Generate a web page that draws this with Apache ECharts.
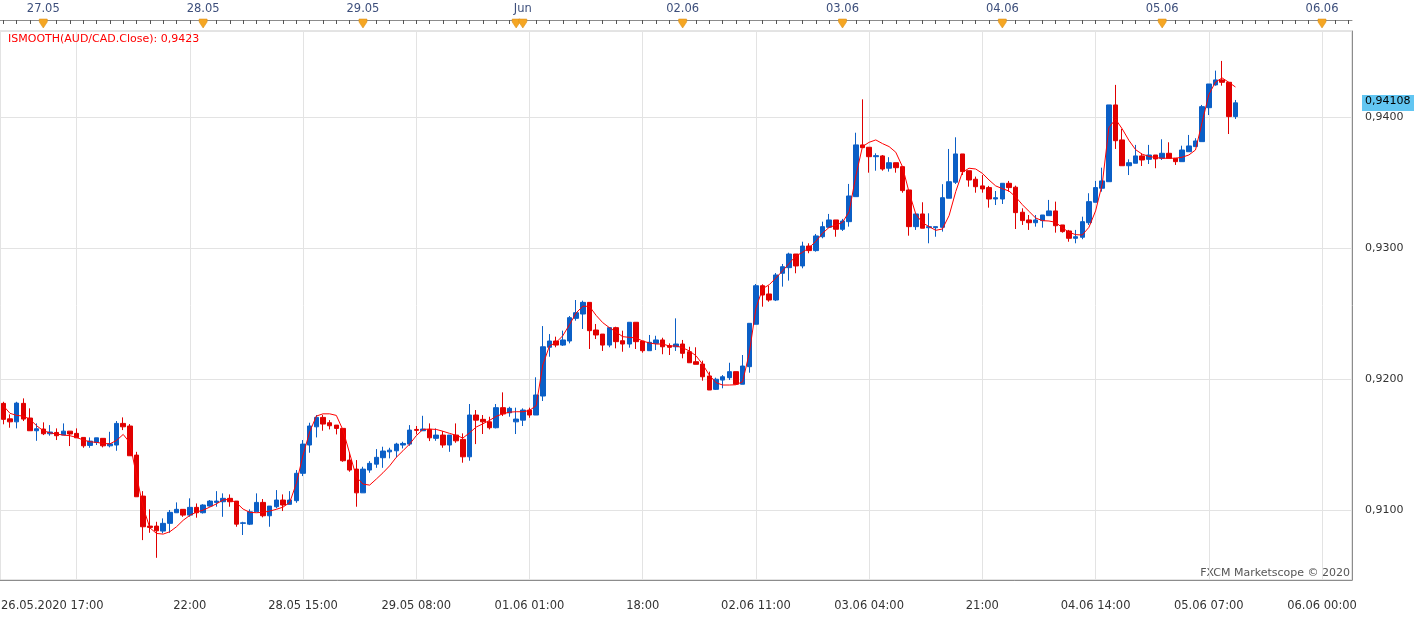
<!DOCTYPE html>
<html>
<head>
<meta charset="utf-8">
<title>AUD/CAD H1</title>
<script src="https://cdn.jsdelivr.net/npm/echarts@6/dist/echarts.min.js"></script>
<style>
  html, body { margin: 0; padding: 0; background: #fff; }
  #chart { width: 1423px; height: 619px; }
</style>
</head>
<body>
<div id="chart"></div>
<script>
// AUD/CAD hourly candles, 26.05.2020 18:00 .. 05.06.2020 11:00
var opens = [
  0.91814,0.91696,0.91673,0.91814,0.91702,0.91605,0.91618,0.91582,0.91592,0.91572,
  0.91602,0.91585,0.91554,0.91493,0.91516,0.91547,0.91490,0.91496,0.91661,0.91641,
  0.91419,0.91106,0.90877,0.90877,0.90839,0.90898,0.90979,0.91005,0.90961,0.91020,
  0.90979,0.91030,0.91058,0.91063,0.91089,0.91068,0.90898,0.90892,0.90986,0.91058,
  0.90956,0.91025,0.91076,0.91043,0.91071,0.91280,0.91496,0.91635,0.91707,0.91666,
  0.91648,0.91623,0.91381,0.91312,0.91131,0.91305,0.91350,0.91399,0.91444,0.91452,
  0.91496,0.91503,0.91615,0.91605,0.91615,0.91547,0.91572,0.91496,0.91572,0.91539,
  0.91406,0.91725,0.91692,0.91673,0.91628,0.91781,0.91742,0.91673,0.91686,0.91763,
  0.91725,0.91870,0.92242,0.92290,0.92259,0.92290,0.92463,0.92496,0.92585,0.92374,
  0.92343,0.92259,0.92392,0.92292,0.92267,0.92433,0.92290,0.92216,0.92272,0.92298,
  0.92254,0.92246,0.92267,0.92208,0.92132,0.92114,0.92023,0.91921,0.91992,0.92010,
  0.92056,0.91960,0.92094,0.92418,0.92712,0.92649,0.92603,0.92807,0.92850,0.92954,
  0.92863,0.93015,0.92980,0.93086,0.93158,0.93214,0.93143,0.93201,0.93392,0.93787,
  0.93769,0.93697,0.93703,0.93609,0.93651,0.93621,0.93443,0.93163,0.93260,0.93155,
  0.93155,0.93158,0.93380,0.93502,0.93718,0.93590,0.93525,0.93474,0.93461,0.93374,
  0.93374,0.93494,0.93464,0.93273,0.93214,0.93193,0.93209,0.93247,0.93283,0.93176,
  0.93130,0.93074,0.93082,0.93193,0.93349,0.93456,0.93506,0.94092,0.93825,0.93628,
  0.93647,0.93703,0.93677,0.93710,0.93685,0.93723,0.93685,0.93659,0.93735,0.93774,
  0.93812,0.94071,0.94245,0.94283,0.94265,0.94003
];
var closes = [
  0.91692,0.91673,0.91816,0.91694,0.91605,0.91620,0.91582,0.91595,0.91567,0.91602,
  0.91580,0.91551,0.91490,0.91526,0.91551,0.91490,0.91505,0.91661,0.91635,0.91414,
  0.91101,0.90872,0.90867,0.90841,0.90898,0.90982,0.91005,0.90961,0.91020,0.90979,
  0.91038,0.91068,0.91068,0.91089,0.91063,0.90892,0.90902,0.90986,0.91058,0.90956,
  0.91030,0.91076,0.91038,0.91076,0.91280,0.91503,0.91641,0.91707,0.91656,0.91643,
  0.91623,0.91376,0.91305,0.91131,0.91312,0.91356,0.91402,0.91450,0.91457,0.91503,
  0.91508,0.91610,0.91608,0.91618,0.91551,0.91572,0.91496,0.91572,0.91528,0.91406,
  0.91725,0.91686,0.91673,0.91628,0.91781,0.91733,0.91776,0.91694,0.91763,0.91725,
  0.91878,0.92246,0.92290,0.92259,0.92298,0.92468,0.92506,0.92585,0.92369,0.92336,
  0.92259,0.92392,0.92285,0.92267,0.92433,0.92285,0.92216,0.92280,0.92298,0.92246,
  0.92242,0.92267,0.92196,0.92124,0.92112,0.92017,0.91916,0.91998,0.92017,0.92056,
  0.91960,0.92099,0.92425,0.92712,0.92641,0.92603,0.92794,0.92857,0.92954,0.92863,
  0.93015,0.92980,0.93092,0.93163,0.93214,0.93143,0.93206,0.93397,0.93787,0.93766,
  0.93697,0.93705,0.93603,0.93651,0.93613,0.93438,0.93163,0.93260,0.93151,0.93163,
  0.93163,0.93384,0.93506,0.93718,0.93583,0.93519,0.93468,0.93451,0.93374,0.93384,
  0.93494,0.93461,0.93270,0.93209,0.93193,0.93214,0.93252,0.93283,0.93170,0.93125,
  0.93074,0.93086,0.93201,0.93354,0.93461,0.93512,0.94092,0.93819,0.93628,0.93651,
  0.93703,0.93672,0.93710,0.93680,0.93723,0.93685,0.93659,0.93748,0.93779,0.93817,
  0.94079,0.94252,0.94283,0.94265,0.94003,0.94108
];
var lows = [
  0.91654,0.91628,0.91623,0.91679,0.91605,0.91528,0.91572,0.91567,0.91534,0.91572,
  0.91488,0.91551,0.91475,0.91475,0.91496,0.91478,0.91478,0.91452,0.91610,0.91414,
  0.91101,0.90770,0.90826,0.90635,0.90822,0.90826,0.90979,0.90948,0.90948,0.90941,
  0.90973,0.91025,0.91025,0.90948,0.91025,0.90872,0.90809,0.90885,0.90986,0.90944,
  0.90872,0.91013,0.90992,0.91043,0.91055,0.91259,0.91437,0.91554,0.91605,0.91615,
  0.91577,0.91368,0.91292,0.91025,0.91131,0.91284,0.91322,0.91322,0.91394,0.91402,
  0.91470,0.91490,0.91577,0.91605,0.91526,0.91528,0.91475,0.91444,0.91513,0.91361,
  0.91376,0.91503,0.91580,0.91615,0.91623,0.91717,0.91712,0.91580,0.91641,0.91704,
  0.91725,0.91832,0.92170,0.92242,0.92252,0.92272,0.92445,0.92382,0.92229,0.92305,
  0.92214,0.92242,0.92234,0.92208,0.92239,0.92229,0.92201,0.92216,0.92221,0.92189,
  0.92183,0.92214,0.92158,0.92124,0.92112,0.91987,0.91916,0.91916,0.91929,0.91992,
  0.91960,0.91960,0.92048,0.92418,0.92552,0.92590,0.92595,0.92705,0.92751,0.92807,
  0.92845,0.92960,0.92972,0.93074,0.93158,0.93086,0.93130,0.93163,0.93392,0.93766,
  0.93575,0.93590,0.93590,0.93583,0.93575,0.93422,0.93094,0.93138,0.93151,0.93036,
  0.93086,0.93125,0.93380,0.93489,0.93557,0.93468,0.93422,0.93422,0.93308,0.93328,
  0.93336,0.93430,0.93145,0.93176,0.93138,0.93163,0.93155,0.93247,0.93117,0.93117,
  0.93048,0.93036,0.93067,0.93176,0.93349,0.93430,0.93506,0.93756,0.93628,0.93557,
  0.93647,0.93626,0.93641,0.93609,0.93672,0.93685,0.93634,0.93659,0.93735,0.93774,
  0.93812,0.94015,0.94239,0.94239,0.93870,0.93985
];
var highs = [
  0.91826,0.91730,0.91826,0.91852,0.91776,0.91661,0.91669,0.91648,0.91623,0.91661,
  0.91602,0.91623,0.91554,0.91554,0.91551,0.91547,0.91597,0.91679,0.91707,0.91656,
  0.91444,0.91144,0.91005,0.90910,0.90936,0.91000,0.91058,0.91005,0.91089,0.91050,
  0.91044,0.91076,0.91144,0.91127,0.91119,0.91068,0.90910,0.91005,0.91127,0.91084,
  0.91030,0.91152,0.91119,0.91144,0.91305,0.91534,0.91666,0.91725,0.91725,0.91686,
  0.91648,0.91623,0.91440,0.91381,0.91330,0.91373,0.91465,0.91483,0.91475,0.91513,
  0.91521,0.91648,0.91641,0.91719,0.91661,0.91623,0.91602,0.91572,0.91661,0.91585,
  0.91809,0.91763,0.91725,0.91712,0.91809,0.91898,0.91788,0.91781,0.91776,0.91781,
  0.92013,0.92404,0.92343,0.92323,0.92369,0.92481,0.92603,0.92598,0.92585,0.92420,
  0.92343,0.92392,0.92399,0.92369,0.92433,0.92433,0.92290,0.92336,0.92330,0.92315,
  0.92272,0.92463,0.92298,0.92246,0.92242,0.92140,0.92056,0.92010,0.92030,0.92124,
  0.92056,0.92183,0.92425,0.92725,0.92723,0.92712,0.92809,0.92878,0.92964,0.92954,
  0.93048,0.93036,0.93107,0.93201,0.93260,0.93214,0.93222,0.93489,0.93880,0.94135,
  0.93769,0.93723,0.93710,0.93693,0.93651,0.93621,0.93443,0.93260,0.93349,0.93265,
  0.93163,0.93487,0.93756,0.93845,0.93718,0.93590,0.93545,0.93557,0.93474,0.93435,
  0.93494,0.93512,0.93476,0.93303,0.93252,0.93252,0.93252,0.93367,0.93354,0.93176,
  0.93138,0.93138,0.93239,0.93418,0.93512,0.93613,0.94092,0.94245,0.93909,0.93677,
  0.93787,0.93723,0.93787,0.93710,0.93830,0.93807,0.93685,0.93781,0.93863,0.93838,
  0.94092,0.94252,0.94354,0.94428,0.94265,0.94130
];
// ISMOOTH(Close)
var smooth = [
  0.91796,0.91738,0.91722,0.91717,0.91692,0.91643,0.91605,0.91589,0.91580,0.91572,
  0.91567,0.91554,0.91534,0.91521,0.91516,0.91508,0.91505,0.91531,0.91577,0.91513,
  0.91261,0.91020,0.90864,0.90821,0.90816,0.90834,0.90872,0.90921,0.90959,0.90984,
  0.90999,0.91022,0.91047,0.91077,0.91081,0.91055,0.91007,0.90982,0.90979,0.90982,
  0.90992,0.91005,0.91022,0.91058,0.91203,0.91419,0.91597,0.91717,0.91734,0.91734,
  0.91722,0.91610,0.91432,0.91253,0.91198,0.91190,0.91236,0.91284,0.91337,0.91402,
  0.91452,0.91503,0.91567,0.91615,0.91618,0.91615,0.91601,0.91585,0.91570,0.91549,
  0.91589,0.91633,0.91658,0.91684,0.91715,0.91734,0.91747,0.91750,0.91750,0.91760,
  0.91796,0.92107,0.92252,0.92279,0.92330,0.92414,0.92504,0.92555,0.92555,0.92486,
  0.92430,0.92392,0.92359,0.92323,0.92318,0.92313,0.92290,0.92275,0.92267,0.92267,
  0.92252,0.92252,0.92239,0.92214,0.92178,0.92112,0.92030,0.91972,0.91954,0.91954,
  0.91956,0.91979,0.92196,0.92540,0.92689,0.92720,0.92771,0.92825,0.92883,0.92939,
  0.92967,0.93003,0.93051,0.93112,0.93158,0.93174,0.93196,0.93277,0.93550,0.93774,
  0.93807,0.93825,0.93797,0.93774,0.93731,0.93621,0.93425,0.93260,0.93193,0.93163,
  0.93135,0.93145,0.93247,0.93430,0.93578,0.93609,0.93603,0.93570,0.93519,0.93474,
  0.93453,0.93435,0.93390,0.93331,0.93280,0.93229,0.93209,0.93206,0.93196,0.93155,
  0.93120,0.93102,0.93099,0.93158,0.93283,0.93489,0.93919,0.93983,0.93909,0.93822,
  0.93751,0.93716,0.93700,0.93690,0.93685,0.93685,0.93685,0.93693,0.93710,0.93748,
  0.93960,0.94170,0.94267,0.94298,0.94265,0.94229
];

// bottom time labels (category index, text) and top day markers
var bottomLabels = [
  [28, '22:00'], [45, '28.05 15:00'], [62, '29.05 08:00'], [79, '01.06 01:00'],
  [96, '18:00'], [113, '02.06 11:00'], [130, '03.06 04:00'], [147, '21:00'],
  [164, '04.06 14:00'], [181, '05.06 07:00'], [198, '06.06 00:00']
];
var gridLines = [11, 28, 45, 62, 79, 96, 113, 130, 147, 164, 181, 198];
var dayLabels = [
  [6, '27.05'], [30, '28.05'], [54, '29.05'], [78, 'Jun'], [102, '02.06'],
  [126, '03.06'], [150, '04.06'], [174, '05.06'], [198, '06.06']
];
var dayMarkers = [6, 30, 54, 77, 78, 102, 126, 150, 174, 198];
var firstLabel = '26.05.2020 17:00';
var yMin = 0.904656, yMax = 0.946565;

var UP = '#0b5fc6', DOWN = '#e00000';
var FONT = 'DejaVu Sans';

function pad(n) { return (n < 10 ? '0' : '') + n; }
function fmt(v, d) { return v.toFixed(d).replace('.', ','); }

// hourly slots, market closed from Fri 21:00 to Sun 21:00
var categories = (function () {
  var list = [];
  var t = Date.UTC(2020, 4, 26, 18);
  var gapFrom = Date.UTC(2020, 4, 29, 21), gapTo = Date.UTC(2020, 4, 31, 21);
  while (list.length < 203) {
    if (t < gapFrom || t >= gapTo) {
      var d = new Date(t);
      list.push(pad(d.getUTCDate()) + '.' + pad(d.getUTCMonth() + 1) + ' ' + pad(d.getUTCHours()) + ':00');
    }
    t += 3600000;
  }
  return list;
})();

var bottomMap = {}, dayMap = {};
bottomLabels.forEach(function (p) { bottomMap[p[0]] = p[1]; });
dayLabels.forEach(function (p) { dayMap[p[0]] = p[1]; });

var candles = opens.map(function (o, i) { return [o, closes[i], lows[i], highs[i]]; });
var last = closes.length - 1;

var chart = echarts.init(document.getElementById('chart'));

var option = {
  animation: false,
  backgroundColor: '#ffffff',
  textStyle: { fontFamily: FONT },
  title: {
    text: 'ISMOOTH(AUD/CAD.Close): ' + fmt(smooth[smooth.length - 1], 4),
    left: 8, top: 34, padding: 0,
    textStyle: { color: '#ff0000', fontSize: 11, fontWeight: 'normal', fontFamily: FONT }
  },
  grid: { left: 0, right: 71, top: 31, bottom: 39, show: true, borderColor: '#c8c8c8', borderWidth: 1 },
  xAxis: [
    {
      type: 'category',
      data: categories,
      boundaryGap: true,
      position: 'bottom',
      axisLine: { lineStyle: { color: '#8c8c8c' } },
      axisTick: { show: false },
      splitLine: { show: false },
      axisLabel: {
        interval: function (i) { return bottomMap[i] !== undefined; },
        formatter: function (v, i) { return bottomMap[i] || ''; },
        color: '#333333', fontSize: 11.5, margin: 20, fontFamily: FONT
      }
    },
    {
      type: 'category',
      data: categories,
      boundaryGap: true,
      position: 'top',
      offset: 11,
      axisLine: { lineStyle: { color: '#8c8c8c' } },
      axisTick: {
        show: true, inside: true, length: 4, alignWithLabel: true,
        interval: function (i) { return i % 2 === 0; },
        lineStyle: { color: '#555555' }
      },
      splitLine: { show: false },
      axisLabel: {
        interval: function (i) { return dayMap[i] !== undefined; },
        formatter: function (v, i) { return dayMap[i] || ''; },
        color: '#3d4f7c', fontSize: 11.5, margin: 5, fontFamily: FONT
      }
    }
  ],
  yAxis: {
    type: 'value',
    position: 'right',
    min: yMin,
    max: yMax,
    splitNumber: 5,
    axisLine: { show: true, lineStyle: { color: '#8c8c8c' } },
    axisTick: { show: false },
    splitLine: { show: true, lineStyle: { color: '#e3e3e3', width: 1 } },
    axisLabel: {
      color: '#333333', fontSize: 11, margin: 13, fontFamily: FONT,
      showMinLabel: false, showMaxLabel: false,
      formatter: function (v) {
        var r = Math.round(v * 100) / 100;
        return Math.abs(r - v) < 1e-7 ? fmt(r, 4) : '';
      }
    }
  },
  series: [
    {
      name: 'AUD/CAD',
      type: 'candlestick',
      data: candles,
      barWidth: 5,
      z: 3,
      itemStyle: { color: UP, color0: DOWN, borderColor: UP, borderColor0: DOWN, borderWidth: 1 },
      markLine: {
        silent: true,
        z: 1,
        symbol: 'none',
        animation: false,
        label: { show: false },
        lineStyle: { color: '#e3e3e3', width: 1, type: 'solid' },
        data: gridLines.map(function (i) { return { xAxis: categories[i] }; })
      }
    },
    {
      name: 'ISMOOTH',
      type: 'line',
      data: smooth,
      showSymbol: false,
      z: 4,
      lineStyle: { color: '#ff0000', width: 1 },
      itemStyle: { color: '#ff0000' }
    }
  ]
};

chart.setOption(option);

// day markers, first time label, watermark and last-price tag
var graphics = [];
dayMarkers.forEach(function (i) {
  var x = chart.convertToPixel({ xAxisIndex: 0 }, i);
  graphics.push({
    type: 'polygon', silent: true, z: 10,
    shape: { points: [[x - 4, 19], [x + 4, 19], [x + 4, 22], [x, 28], [x - 4, 22]] },
    style: { fill: '#f5a623', stroke: '#d98a10', lineWidth: 0.5 }
  });
});
graphics.push({
  type: 'text', left: 1, top: 600, silent: true,
  style: { text: firstLabel, fill: '#333333', font: '11.5px "DejaVu Sans"' }
});
graphics.push({
  type: 'text', right: 73, top: 568, silent: true,
  style: { text: 'FXCM Marketscope © 2020', fill: '#555555', font: '11px "DejaVu Sans"' }
});
var yTag = chart.convertToPixel({ yAxisIndex: 0 }, closes[last]);
graphics.push({
  type: 'rect', silent: true, z: 10,
  shape: { x: 1362, y: Math.round(yTag) - 8, width: 52, height: 16 },
  style: { fill: '#62c6f2' }
});
graphics.push({
  type: 'text', silent: true, z: 11,
  x: 1365, y: Math.round(yTag) - 7,
  style: { text: fmt(closes[last], 5), fill: '#000000', font: '11px "DejaVu Sans"' }
});
chart.setOption({ graphic: graphics });
</script>
</body>
</html>
